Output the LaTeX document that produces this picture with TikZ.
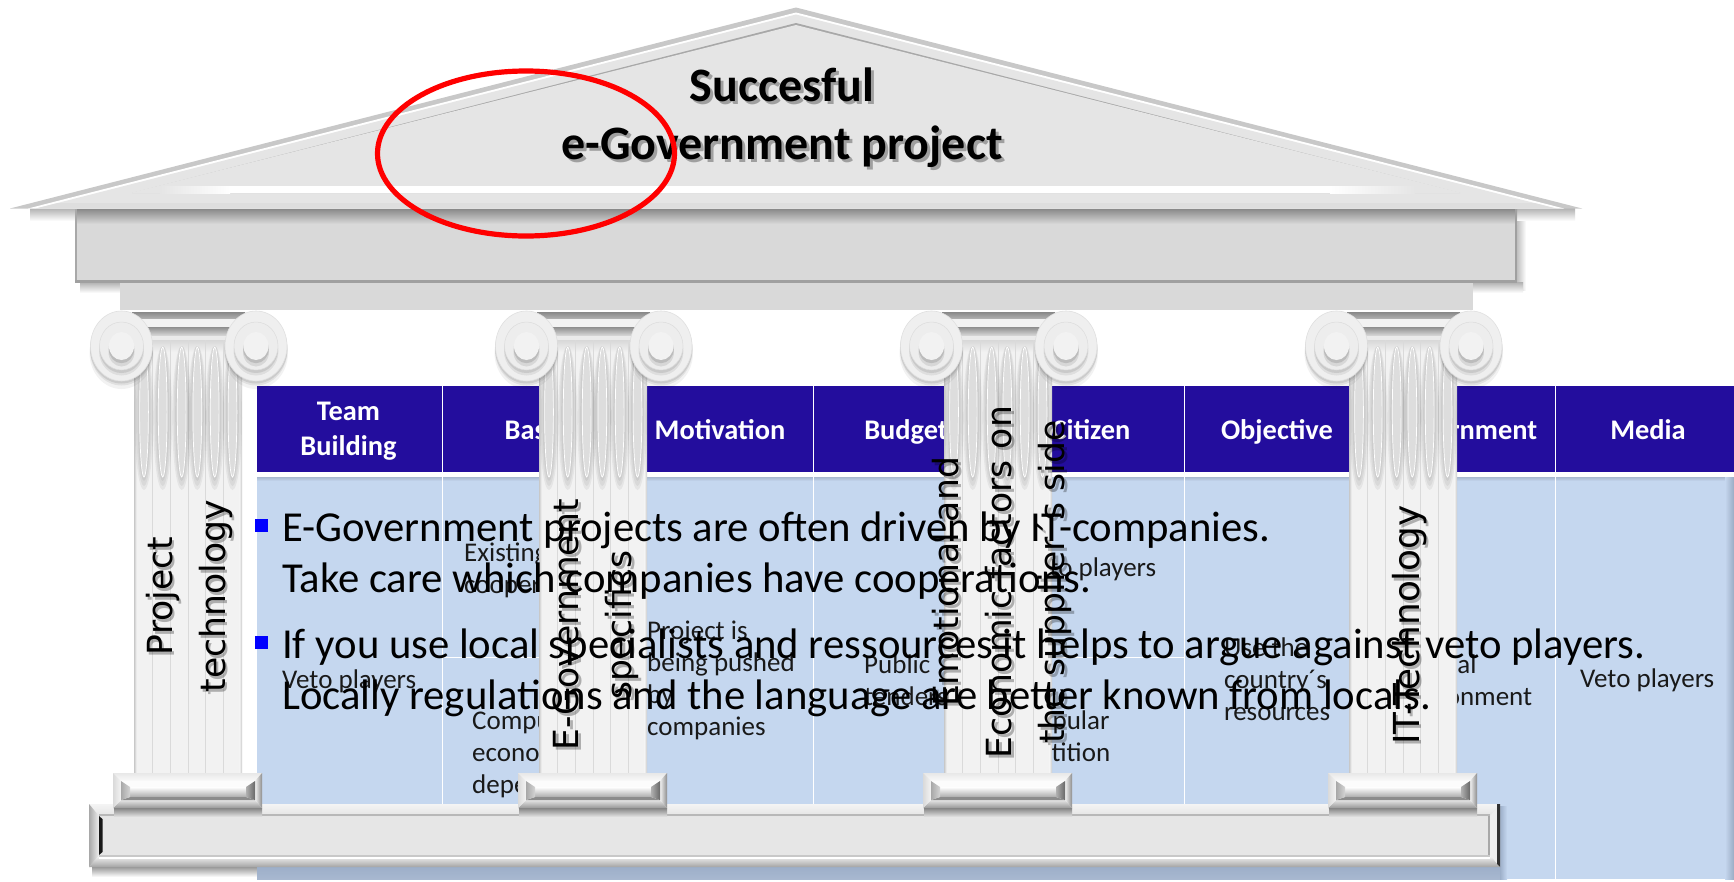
\documentclass[tikz,border=0pt]{standalone}
\usepackage{fontspec}
\setmainfont{Carlito}
\newfontfamily\vertfont{DejaVu Sans}
\definecolor{tblhead}{HTML}{230D9D}
\definecolor{tblbody}{HTML}{C5D7EF}
\definecolor{tblshade}{HTML}{9DAFC9}
\definecolor{stone}{HTML}{D9D9D9}
\definecolor{roof}{HTML}{E5E5E5}
\definecolor{shaftc}{HTML}{F2F2F2}
\newcommand\mkcol[1]{\definecolor{#1}{HTML}{#1}}
\mkcol{A8B8CF}\mkcol{9AABC3}\mkcol{A0A0A0}\mkcol{8A8A8A}\mkcol{A8A8A8}\mkcol{888888}\mkcol{B4B4B4}\mkcol{8E8E8E}\mkcol{DCDCDC}\mkcol{EBEBEB}\mkcol{D8D8D8}\mkcol{C8C8C8}\mkcol{DADADA}\mkcol{DDDDDD}\mkcol{EFEFEF}\mkcol{EDEDED}\mkcol{D4D4D4}\mkcol{FAFAFA}\mkcol{E8E8E8}\mkcol{E4E4E4}\mkcol{989898}\mkcol{F4F4F4}\mkcol{F0F0F0}\mkcol{ACACAC}\mkcol{FCFCFC}\mkcol{8C8C8C}\mkcol{B0B0B0}\mkcol{686868}\mkcol{FFFFFF}\mkcol{9A9A9A}\mkcol{A8B8D0}\mkcol{E6E6E6}\mkcol{B8B8B8}\mkcol{A4A4A4}\mkcol{EEEEEE}\mkcol{ECECEC}\mkcol{303030}\mkcol{181818}\mkcol{DEDEDE}\mkcol{848484}\mkcol{C0C0C0}\mkcol{E0E0E0}
\tikzset{
  headtxt/.style={text=white,inner sep=0,align=center,font=\bfseries\fontsize{28.4}{35}\selectfont},
  celltxt/.style={text=black!90,inner sep=0,anchor=north west,align=left,font=\fontsize{27}{32}\selectfont},
  bigtxt/.style={text=black,inner sep=0,anchor=north west,align=left,font=\fontsize{42.7}{51}\selectfont},
  coltxt/.style={text=black,inner sep=0,rotate=90,align=center,font=\vertfont\fontsize{34.6}{53}\selectfont},
  coltxtshadow/.style={coltxt,text opacity=.28},
  coltxtwide/.style={font=\vertfont\fontsize{35.8}{53}\selectfont},
  titletxt/.style={text=black,inner sep=0,anchor=north,align=center,font=\bfseries\fontsize{48}{58}\selectfont},
  bullet/.style={fill=blue},
}
\newcommand\myColumn{%
  % capital bars
  \shade[top color=888888,bottom color=B4B4B4] (132,312) rectangle (245,319);
  \fill[shaftc] (132,319) rectangle (245,327);
  \shade[top color=8E8E8E,bottom color=DCDCDC] (132,327) rectangle (245,336);
  \fill[EBEBEB] (132,336) rectangle (245,340);
  % shaft
  \fill[shaftc] (134,340) rectangle (242,773);
  \shade[top color=D8D8D8,bottom color=shaftc] (134,340) rectangle (242,352);
  \shade[left color=C8C8C8,right color=shaftc] (134,340) rectangle (136.5,773);
  \shade[left color=shaftc,right color=C8C8C8] (239.5,340) rectangle (242,773);
  \foreach \lx in {152.5,170.5,188,205.5,223.5} \draw[DADADA,line width=.7pt] (\lx,340) -- (\lx,773);
  % flutes
  \foreach \fx in {144,162.7,181.7,197.3,214.7,232.5} {
    \fill[black,opacity=.05] (\fx,418) ellipse [x radius=9.5,y radius=72];
    \fill[black,opacity=.05] (\fx,416) ellipse [x radius=8,y radius=70];
    \fill[black,opacity=.05] (\fx,414) ellipse [x radius=6.5,y radius=67];
    \fill[DDDDDD] (\fx,412) ellipse [x radius=4.4,y radius=65];
    \draw[white,line width=.7pt] (\fx,412) ellipse [x radius=4.4,y radius=65];
  }
  % volutes
  \foreach \vx in {121.5,256} {
    \fill[black,opacity=.05] (\vx,353) ellipse [x radius=32,y radius=36];
    \fill[black,opacity=.07] (\vx,350) ellipse [x radius=31.5,y radius=35.5];
    \fill[black,opacity=.09] (\vx,348) ellipse [x radius=31.5,y radius=35.5];
    \filldraw[fill=EFEFEF,draw=E0E0E0,line width=.6pt] (\vx,346) ellipse [x radius=31,y radius=35];
    \fill[black,opacity=.07] (\vx,351) ellipse [x radius=22.5,y radius=24.5];
    \fill[black,opacity=.09] (\vx,349) ellipse [x radius=22,y radius=24];
    \filldraw[fill=EDEDED,draw=DCDCDC,line width=.5pt] (\vx,346) ellipse [x radius=22,y radius=24];
    \fill[black,opacity=.09] (\vx,352) ellipse [x radius=13,y radius=14.5];
    \fill[black,opacity=.12] (\vx,349) ellipse [x radius=12.8,y radius=14.2];
    \fill[shaftc] (\vx,346) ellipse [x radius=12.5,y radius=14];
  }
}
\newcommand\myBase{%
  \fill[shaftc] (113,773) rectangle (262,808);
  \shade[top color=E8E8E8,bottom color=FAFAFA] (113,773) -- (262,773) -- (255,781) -- (121,781) -- cycle;
  \shade[top color=E4E4E4,bottom color=989898] (113,808) -- (262,808) -- (255,800) -- (121,800) -- cycle;
  \shade[left color=DADADA,right color=F4F4F4] (113,773) -- (121,781) -- (121,800) -- (113,808) -- cycle;
  \shade[left color=F0F0F0,right color=8E8E8E] (262,773) -- (255,781) -- (255,800) -- (262,808) -- cycle;
  \shade[top color=FFFFFF,bottom color=ACACAC] (130,787) rectangle (246,797);
  \fill[FCFCFC] (121,781) -- (255,781) -- (246,787) -- (130,787) -- cycle;
  \fill[8C8C8C] (121,800) -- (255,800) -- (246,797) -- (130,797) -- cycle;
  \shade[left color=A8A8A8,right color=D4D4D4] (121,781) -- (130,787) -- (130,797) -- (121,800) -- cycle;
  \shade[left color=B0B0B0,right color=686868] (255,781) -- (246,787) -- (246,797) -- (255,800) -- cycle;
}
\begin{document}
\begin{tikzpicture}[x=1pt,y=-1pt]
\useasboundingbox (0,0) rectangle (1734,881);
\fill[white] (0,0) rectangle (1734,881);

% ---------- table ----------
\fill[tblhead] (257,386) rectangle (1734,472);
\fill[tblbody] (257,477) rectangle (1734,879);
\shade[top color=A8B8CF,bottom color=tblbody] (257,477) rectangle (1734,481);
\shade[left color=tblbody,right color=9AABC3] (1725,477) rectangle (1734,879);
\foreach \cx in {442,627,813,998,1184,1370,1555} {
  \draw[white,line width=.8pt] (\cx,386) -- (\cx,472);
  \draw[white,line width=.8pt] (\cx,477) -- (\cx,879);
}
\draw[white,line width=.8pt] (442,657) -- (627,657);
\draw[white,line width=.8pt] (998,657) -- (1184,657);

\node[headtxt] (h1) at (348.5,431.5) {Team\\Building};
\node[headtxt,anchor=base] (h2) at (534.5,439) {Basis};
\node[headtxt,anchor=base] (h3) at (720,439) {Motivation};
\node[headtxt,anchor=base] (h4) at (906,439) {Budget};
\node[headtxt,anchor=base] (h5) at (1091,439) {Citizen};
\node[headtxt,anchor=base] (h6) at (1277,439) {Objective};
\node[headtxt,anchor=base] (h7) at (1463,439) {Government};
\node[headtxt,anchor=base] (h8) at (1648,439) {Media};

\node[celltxt] (c1) at (282,670) {Veto players};
\node[celltxt] (c2a) at (464,543) {Existing\\cooperations};
\node[celltxt] (c2b) at (472,712) {Computer\\economic\\dependence};
\node[celltxt] (c3) at (647,621) {Project is\\being pushed\\by\\companies};
\node[celltxt] (c4) at (864,655) {Public\\tenders};
\node[celltxt] (c5a) at (1022,558) {Veto players};
\node[celltxt] (c5b) at (1024,711) {popular\\petition};
\node[celltxt] (c6) at (1224,638) {Use the\\country´s\\resources};
\node[celltxt] (c7) at (1391,655) {Political\\environment};
\node[celltxt] (c8) at (1580,669) {Veto players};

% ---------- entablature ----------
\shade[top color=B0B0B0,bottom color=white] (30,208) rectangle (75,221);
\shade[top color=B0B0B0,bottom color=white] (1517,208) rectangle (1575,221);
\shade[left color=C0C0C0,right color=white] (1517,221) rectangle (1526,290);
\shade[top color=B0B0B0,bottom color=white] (80,282) rectangle (120,293);
\shade[top color=B0B0B0,bottom color=white] (1473,282) rectangle (1523,293);
\fill[stone] (75,209) rectangle (1517,281);
\shade[top color=8A8A8A,bottom color=stone] (75,209) rectangle (1517,224);
\fill[A0A0A0] (1515,209) rectangle (1517,282);
\fill[A8A8A8] (75,209) rectangle (76.5,282);
\fill[A0A0A0] (75,280) rectangle (1517,282.5);
\fill[stone] (120,283) rectangle (1473,310);

% ---------- columns ----------
\foreach \dx in {0,405,810,1215} {
  \begin{scope}[xshift=\dx pt]
    \myColumn
  \end{scope}
}

% ---------- plinth ----------
\shade[top color=9A9A9A,bottom color=white] (92,867) rectangle (257,877);
\shade[top color=tblshade,bottom color=A8B8D0] (257,867) rectangle (1500,879);
\shade[left color=tblshade,right color=tblbody] (1500,806) rectangle (1507,879);
\fill[E6E6E6] (89,804) rectangle (1500,867);
\shade[top color=F4F4F4,bottom color=E4E4E4] (89,804) -- (1500,804) -- (1490,816) -- (99,816) -- cycle;
\fill[B8B8B8] (99,814) -- (1490,814) -- (1490,816) -- (99,816) -- cycle;
\shade[top color=FAFAFA,bottom color=A4A4A4] (89,867) -- (1500,867) -- (1490,855) -- (99,855) -- cycle;
\fill[C8C8C8] (99,855) rectangle (1490,857);
\fill[white] (99,857) rectangle (1490,858.5);
\shade[left color=A8A8A8,right color=EEEEEE] (89,804) -- (99,816) -- (99,855) -- (89,867) -- cycle;
\shade[left color=EEEEEE,right color=ECECEC] (1500,804) -- (1490,816) -- (1490,855) -- (1500,867) -- cycle;
\fill[303030] (1497,804) -- (1500,804) -- (1500,867) -- (1497,864) -- cycle;
\fill[181818] (99,816) -- (102.5,819) -- (102.5,852) -- (99,855) -- cycle;
\fill[A8A8A8] (1488,816) rectangle (1490,855);

\foreach \dx in {0,405,810,1215} {
  \begin{scope}[xshift=\dx pt]
    \shade[top color=848484,bottom color=E6E6E6] (114,808) rectangle (262,817);
    \myBase
  \end{scope}
}

% ---------- pediment ----------
\fill[C8C8C8] (10,208.5) -- (796,7.5) -- (1582,208.5) -- cycle;
\fill[white] (28,208.5) -- (796,12.5) -- (1564,208.5) -- cycle;
\fill[roof] (36,208.5) -- (796,14.5) -- (1556,208.5) -- cycle;
\fill[A8A8A8] (132,193) -- (796,23) -- (1460,193) -- cycle;
\fill[roof] (128,193.5) -- (796,25) -- (1464,193.5) -- cycle;
\shade[left color=roof,right color=white] (160,186) rectangle (230,193);
\fill[white] (230,186) rectangle (1330,193);
\shade[left color=white,right color=roof] (1330,186) rectangle (1415,193);
\fill[DEDEDE] (58,203) -- (1534,203) -- (1556,208.5) -- (36,208.5) -- cycle;

% ---------- title ----------
\node[titletxt,text opacity=.3] (titleshadow) at (785,71) {Succesful\\e-Government project};
\node[titletxt] (title) at (782,68) {Succesful\\e-Government project};

% ---------- column text ----------
\node[coltxtshadow] (p1s) at (191.5,599) {Project\\technology};
\node[coltxtshadow] (p2s) at (598.5,628) {E-Government\\specifics};
\node[coltxtshadow] (p3s) at (1004.5,585) {Emotional and\\Economic factors on\\the supplier´s side};
\node[coltxtshadow,coltxtwide] (p4s) at (1412,628) {IT-Technology};
\node[coltxt] (p1) at (189,596) {Project\\technology};
\node[coltxt] (p2) at (596,625) {E-Government\\specifics};
\node[coltxt] (p3) at (1002,582) {Emotional and\\Economic factors on\\the supplier´s side};
\node[coltxt,coltxtwide] (p4) at (1409.5,625) {IT-Technology};

% ---------- bullets ----------
\fill[bullet] (255,519) rectangle (268,532);
\fill[bullet] (255,636) rectangle (268,649);
\node[bigtxt] (b1) at (282,512) {E-Government projects are often driven by IT-companies.\\Take care which companies have cooperations.};
\node[bigtxt] (b2) at (282,629) {If you use local specialists and ressources it helps to argue against veto players.\\Locally regulations and the language are better known from locals.};

% ---------- highlight ----------
\draw[red,line width=5.2pt] (526,153.5) ellipse [x radius=148.5,y radius=82.5];
\end{tikzpicture}
\end{document}
